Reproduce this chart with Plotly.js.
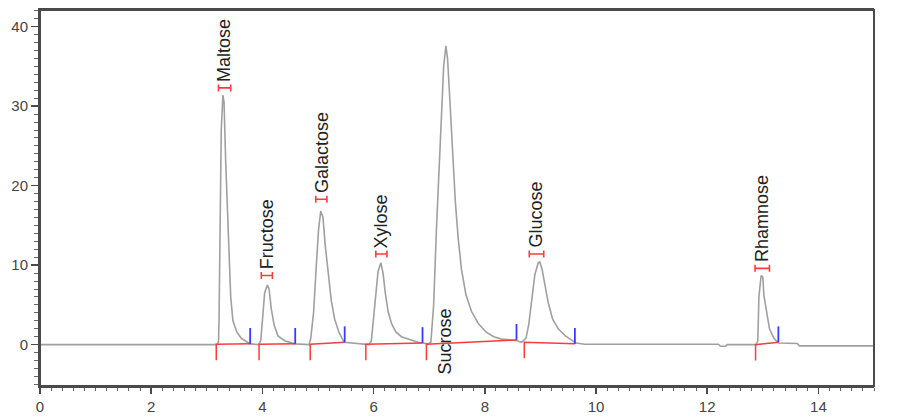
<!DOCTYPE html>
<html>
<head>
<meta charset="utf-8">
<script src="https://cdn.plot.ly/plotly-3.0.1.min.js"></script>
<style>html,body{margin:0;padding:0;background:#fff;}#chart{width:913px;height:420px;}</style>
</head>
<body>
<div id="chart"></div>
<script>
// Detector trace (retention time in min, signal)
const retentionTime = [0, 3.18, 3.21, 3.22, 3.24, 3.26, 3.29, 3.31, 3.34, 3.37, 3.40, 3.43, 3.47, 3.54, 3.62, 3.72, 3.78,
  3.93, 3.97, 4.00, 4.04, 4.09, 4.12, 4.16, 4.21, 4.28, 4.40, 4.58,
  4.84, 4.87, 4.92, 4.97, 5.01, 5.05, 5.09, 5.13, 5.18, 5.24, 5.30, 5.38, 5.47,
  5.92, 5.96, 6.00, 6.04, 6.08, 6.13, 6.17, 6.21, 6.26, 6.32, 6.40, 6.50, 6.65, 6.80, 6.88,
  6.98, 7.03, 7.08, 7.13, 7.18, 7.22, 7.26, 7.30, 7.33, 7.37, 7.42, 7.47, 7.52, 7.58, 7.66, 7.76, 7.88, 8.02, 8.16, 8.30, 8.45, 8.58,
  8.66, 8.70, 8.74, 8.79, 8.84, 8.90, 8.96, 8.99, 9.03, 9.08, 9.14, 9.22, 9.32, 9.45, 9.55, 9.64,
  9.80, 12.20, 12.24, 12.33, 12.36,
  12.88, 12.91, 12.93, 12.97, 13.00, 13.02, 13.06, 13.12, 13.20, 13.28,
  13.62, 13.66, 15];
const signal = [0, 0, 0.3, 3, 15, 27, 31.4, 30.5, 23, 18, 12, 6, 3, 1.6, 0.8, 0.3, 0.1,
  0, 0.5, 3, 6.5, 7.5, 7, 4.5, 2.5, 1.1, 0.5, 0.1,
  0, 0.8, 4, 10, 14.5, 16.8, 16, 12.5, 9, 5.5, 3.2, 1.5, 0.3,
  0, 0.5, 3.5, 7, 9.2, 10.3, 9, 6.5, 4.2, 2.7, 1.6, 1.0, 0.6, 0.3, 0.2,
  0.1, 0.3, 5, 14.5, 22, 29, 35, 37.6, 36, 31, 24, 18, 13.5, 9.5, 6.3, 4.2, 2.7, 1.6, 1.0, 0.7, 0.6, 0.5,
  0.3, 0.5, 0.8, 2.5, 5.5, 8.8, 10.3, 10.4, 9.5, 7.8, 5.3, 3.2, 2.0, 1.1, 0.6, 0.2,
  0.05, 0.05, -0.2, -0.2, 0,
  0, 0.5, 6, 8.7, 8.5, 6.2, 4.5, 2.0, 0.8, 0.2,
  0.15, -0.15, -0.15];

// Peak table
const peakNames      = ["Maltose", "Fructose", "Galactose", "Xylose", "Sucrose", "Glucose", "Rhamnose"];
const peakApex       = [3.32, 4.08, 5.06, 6.14, 7.28, 8.93, 12.99];
const peakMarkerY    = [32.3, 8.7, 18.3, 11.4, null, 11.4, 9.6];
const peakMarkerHalf = [0.11, 0.1, 0.1, 0.1, 0, 0.13, 0.13];
const peakStart      = [3.17, 3.94, 4.86, 5.86, 6.95, 8.71, 12.87];
const peakEnd        = [3.78, 4.59, 5.48, 6.88, 8.57, 9.62, 13.28];
const startLevel     = [0.05, 0.05, 0.05, 0.05, 0.05, 0.3, 0.0];
const endLevel       = [0.1, 0.1, 0.3, 0.2, 0.6, 0.1, 0.3];

const tickDown = 2.0, tickUp = 2.0;

const redX = [], redY = [], blueX = [], blueY = [];
for (let i = 0; i < peakNames.length; i++) {
  redX.push(peakStart[i], peakStart[i], peakEnd[i], null);
  redY.push(startLevel[i] - tickDown, startLevel[i], endLevel[i], null);
  blueX.push(peakEnd[i], peakEnd[i], null);
  blueY.push(endLevel[i], endLevel[i] + tickUp, null);
}

const mkX = [], mkY = [], mkE = [];
peakNames.forEach((n, i) => {
  if (peakMarkerY[i] !== null) { mkX.push(peakApex[i]); mkY.push(peakMarkerY[i]); mkE.push(peakMarkerHalf[i]); }
});

const traces = [
  { x: retentionTime, y: signal, type: 'scatter', mode: 'lines',
    line: { color: '#a0a0a0', width: 1.6 }, hoverinfo: 'skip', showlegend: false },
  { x: redX, y: redY, type: 'scatter', mode: 'lines',
    line: { color: '#ff3b3b', width: 1.5 }, hoverinfo: 'skip', showlegend: false },
  { x: blueX, y: blueY, type: 'scatter', mode: 'lines',
    line: { color: '#3a3aff', width: 1.8 }, hoverinfo: 'skip', showlegend: false },
  { x: mkX, y: mkY, type: 'scatter', mode: 'markers',
    marker: { size: 1, color: 'rgba(0,0,0,0)' },
    error_x: { type: 'data', array: mkE, symmetric: true, color: '#ff3b3b', thickness: 1.6, width: 3.5 },
    hoverinfo: 'skip', showlegend: false }
];

const labelFont = { family: 'Liberation Sans, Arial, sans-serif', size: 18, color: '#222' };
const annotations = peakNames.map((n, i) => {
  if (peakMarkerY[i] === null) {
    return { x: peakApex[i], y: 0, xref: 'x', yref: 'y', text: n, showarrow: false,
      textangle: -90, xanchor: 'center', yanchor: 'top', yshift: 38, font: labelFont };
  }
  return { x: peakApex[i], y: peakMarkerY[i], xref: 'x', yref: 'y', text: n, showarrow: false,
    textangle: -90, xanchor: 'center', yanchor: 'bottom', yshift: 4, font: labelFont };
});

const axColor = '#4a4a4a';
const tickFont = { family: 'Liberation Sans, Arial, sans-serif', size: 15, color: '#444' };
const xRange = [0, 15], yRange = [-5.2, 42.1];

const layout = {
  width: 913, height: 420,
  margin: { l: 40, r: 39, t: 10, b: 34, pad: 0 },
  paper_bgcolor: '#fff', plot_bgcolor: '#fff',
  showlegend: false,
  xaxis: { range: xRange, dtick: 2, tick0: 0, ticks: 'outside', ticklen: 6, tickwidth: 1.5, tickcolor: axColor,
    showline: true, linecolor: axColor, linewidth: 2, mirror: true, showgrid: false, zeroline: false,
    tickfont: tickFont, minor: { dtick: 0.2, ticks: 'outside', ticklen: 3, tickwidth: 1, tickcolor: '#666', showgrid: false } },
  xaxis2: { overlaying: 'x', anchor: 'y', side: 'bottom', range: xRange, tick0: 1, dtick: 2, ticks: 'outside', ticklen: 6,
    tickwidth: 1.2, tickcolor: axColor, showticklabels: false, showline: false, showgrid: false, zeroline: false },
  yaxis: { range: yRange, dtick: 10, tick0: 0, ticks: 'outside', ticklen: 7, tickwidth: 1.5, tickcolor: axColor,
    showline: true, linecolor: axColor, linewidth: 2, showgrid: false, zeroline: false, tickfont: tickFont,
    minor: { dtick: 1, ticks: 'outside', ticklen: 4, tickwidth: 1, tickcolor: '#666', showgrid: false } },
  yaxis2: { overlaying: 'y', side: 'right', anchor: 'x', range: yRange, dtick: 10, tick0: 0, ticks: 'outside', ticklen: 7,
    tickwidth: 1.5, tickcolor: axColor, showline: true, linecolor: axColor, linewidth: 2, showgrid: false, zeroline: false,
    tickfont: tickFont, minor: { dtick: 1, ticks: 'outside', ticklen: 4, tickwidth: 1, tickcolor: '#666', showgrid: false } },
  yaxis3: { overlaying: 'y', side: 'left', anchor: 'x', range: yRange, tick0: 5, dtick: 10, ticks: 'outside', ticklen: 6,
    tickwidth: 1.2, tickcolor: axColor, showticklabels: false, showline: false, showgrid: false, zeroline: false },
  yaxis4: { overlaying: 'y', side: 'right', anchor: 'x', range: yRange, tick0: 5, dtick: 10, ticks: 'outside', ticklen: 6,
    tickwidth: 1.2, tickcolor: axColor, showticklabels: false, showline: false, showgrid: false, zeroline: false },
  shapes: [
    { type: 'rect', xref: 'paper', yref: 'paper', x0: 0, x1: 1, y0: 0, y1: 1,
      line: { color: axColor, width: 2 }, fillcolor: 'rgba(0,0,0,0)', layer: 'above' }
  ],
  annotations: annotations
};

Plotly.newPlot('chart', traces, layout, { staticPlot: true, displayModeBar: false });
</script>
</body>
</html>
